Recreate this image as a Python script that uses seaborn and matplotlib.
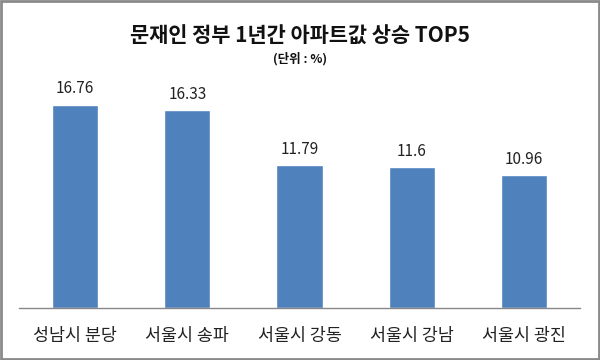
import matplotlib
matplotlib.use("Agg")
import matplotlib.pyplot as plt
import seaborn as sns
import pandas as pd
from matplotlib.patches import Rectangle

# Data
regions = ["성남시 분당", "서울시 송파", "서울시 강동", "서울시 강남", "서울시 광진"]
rise_pct = [16.76, 16.33, 11.79, 11.6, 10.96]
value_labels = ["16.76", "16.33", "11.79", "11.6", "10.96"]

df = pd.DataFrame({"region": regions, "rise": rise_pct})

sns.set_style("white")
plt.rcParams["font.family"] = ["Noto Sans CJK KR", "DejaVu Sans"]

fig = plt.figure(figsize=(6, 3.6), dpi=100)
ax = fig.add_axes([19 / 600, 52 / 360, 561 / 600, 228 / 360])

sns.barplot(x="region", y="rise", data=df, color="#4F81BD", width=0.41,
            saturation=1, ax=ax)

ax.set_ylim(0, 18.8)
ax.set_xlim(-0.5, 4.5)
for i, v in enumerate(rise_pct):
    ax.text(i, v + 0.6, value_labels[i], ha="center", va="bottom",
            fontsize=11, color="#222222")

for s in ["top", "right", "left"]:
    ax.spines[s].set_visible(False)
ax.spines["bottom"].set_color("#888888")
ax.spines["bottom"].set_linewidth(1)
ax.set_yticks([])
ax.set_xlabel("")
ax.set_ylabel("")
ax.tick_params(axis="x", length=0, pad=14, labelsize=12.5, colors="#222222")

fig.text(0.5, 0.9, "문재인 정부 1년간 아파트값 상승 TOP5", ha="center",
         va="center", fontsize=15, fontweight="bold", color="#111111")
fig.text(0.5, 0.836, "(단위 : %)", ha="center", va="center",
         fontsize=9, fontweight="bold", color="#111111")

# Outer frame
fig.patches.append(Rectangle((0.002, 0.003), 0.996, 0.994, transform=fig.transFigure,
                             fill=False, edgecolor="#8a8a8a", linewidth=2))

plt.savefig("out.png", dpi=100)
plt.close()
